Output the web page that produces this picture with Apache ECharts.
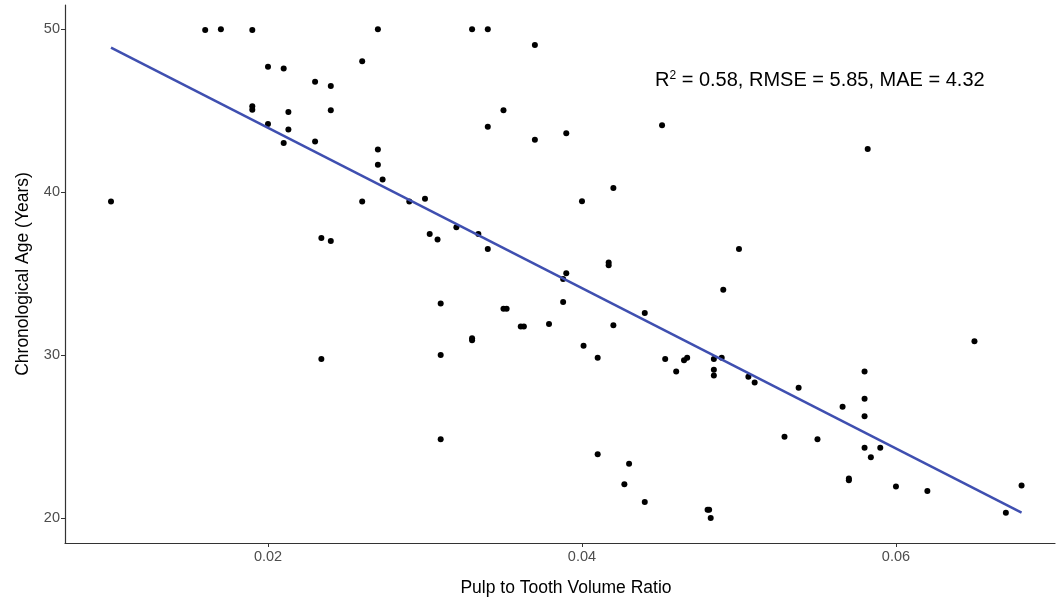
<!DOCTYPE html>
<html>
<head>
<meta charset="utf-8">
<title>Pulp to Tooth Volume Ratio vs Age</title>
<script src="https://cdn.jsdelivr.net/npm/echarts@6/dist/echarts.min.js"></script>
<style>
  html, body { margin: 0; padding: 0; background: #fff; overflow: hidden; }
  #chart { width: 1056px; height: 602px; }
</style>
</head>
<body>
<div id="chart"></div>
<script>
  // points
  var ratio = [
    0.0160, 0.0170, 0.0190, 0.0270, 0.0260, 0.0200, 0.0210, 0.0230, 0.0240, 0.0190,
    0.0190, 0.0213, 0.0240, 0.0200, 0.0213, 0.0210, 0.0230, 0.0270, 0.0270, 0.0273,
    0.0260, 0.0290, 0.0100, 0.0234, 0.0240, 0.0330, 0.0340, 0.0370, 0.0350, 0.0340,
    0.0370, 0.0390, 0.0451, 0.0420, 0.0400, 0.0300, 0.0303, 0.0308, 0.0320, 0.0334,
    0.0340, 0.0500, 0.0417, 0.0417, 0.0390, 0.0388, 0.0490, 0.0310, 0.0388, 0.0350,
    0.0352, 0.0440, 0.0361, 0.0363, 0.0379, 0.0420, 0.0330, 0.0330, 0.0310, 0.0401,
    0.0410, 0.0453, 0.0460, 0.0465, 0.0467, 0.0484, 0.0489, 0.0484, 0.0484, 0.0506,
    0.0510, 0.0310, 0.0410, 0.0430, 0.0427, 0.0440, 0.0480, 0.0481, 0.0482, 0.0234,
    0.0538, 0.0650, 0.0580, 0.0580, 0.0580, 0.0566, 0.0529, 0.0550, 0.0580, 0.0590,
    0.0584, 0.0570, 0.0570, 0.0600, 0.0620, 0.0680, 0.0670, 0.0582
  ]
  var age = [
    49.94, 50.00, 49.94, 50.00, 48.03, 47.69, 47.58, 46.77, 46.51, 45.27,
    45.05, 44.92, 45.03, 44.18, 43.85, 43.02, 43.10, 42.61, 41.68, 40.77,
    39.43, 39.43, 39.43, 37.19, 37.01, 50.00, 50.00, 49.03, 45.03, 44.01,
    43.22, 43.61, 44.11, 40.26, 39.45, 39.59, 37.44, 37.10, 37.85, 37.44,
    36.52, 36.52, 35.69, 35.52, 35.03, 34.67, 34.01, 33.17, 33.26, 32.85,
    32.85, 32.59, 31.76, 31.76, 31.92, 31.84, 31.04, 30.92, 30.01, 30.58,
    29.85, 29.77, 29.00, 29.69, 29.85, 29.77, 29.85, 29.10, 28.76, 28.67,
    28.33, 24.84, 23.93, 23.34, 22.08, 21.00, 20.52, 20.52, 20.01, 29.77,
    28.00, 30.85, 29.00, 27.33, 26.26, 26.83, 25.00, 24.84, 24.33, 24.33,
    23.74, 22.43, 22.33, 21.94, 21.67, 22.00, 20.33, 42.65
  ]
  var xTicks = [0.02, 0.04, 0.06]
  var yTicks = [20, 30, 40, 50]
  // fitted line
  var fitIntercept = 53.78
  var fitSlope = -491.7

  var points = ratio.map(function (r, i) { return [r, age[i]] })
  var xLo = Math.min.apply(null, ratio)
  var xHi = Math.max.apply(null, ratio)
  var fitData = [xLo, xHi].map(function (x) { return [x, fitIntercept + fitSlope * x] })

  var font = '"Liberation Sans", Arial, Helvetica, sans-serif'
  var axisColor = '#333'

  var chart = echarts.init(document.getElementById('chart'), null, { renderer: 'canvas' })
  var option = {
    backgroundColor: '#fff',
    animation: false,
    grid: { left: 65, right: 1, top: 5, bottom: 55, containLabel: false },
    xAxis: {
      type: 'value',
      min: 0.00707,
      max: 0.07013,
      name: 'Pulp to Tooth Volume Ratio',
      nameLocation: 'middle',
      nameGap: 36,
      nameTextStyle: { color: '#000', fontSize: 17.5, fontFamily: font, padding: [0, 0, 0, 12] },
      axisLine: { show: true, onZero: false, lineStyle: { color: axisColor, width: 1.2 } },
      axisTick: { show: true, length: 4, customValues: xTicks, lineStyle: { color: axisColor } },
      axisLabel: {
        color: '#4d4d4d', fontSize: 14.5, fontFamily: font, margin: 6,
        customValues: xTicks,
        formatter: function (v) { return v.toFixed(2) }
      },
      splitLine: { show: false }
    },
    yAxis: {
      type: 'value',
      min: 18.48,
      max: 51.48,
      name: 'Chronological Age (Years)',
      nameLocation: 'middle',
      nameGap: 33,
      nameTextStyle: { color: '#000', fontSize: 17.5, fontFamily: font },
      axisLine: { show: true, onZero: false, lineStyle: { color: axisColor, width: 1.2 } },
      axisTick: { show: true, length: 4, customValues: yTicks, lineStyle: { color: axisColor } },
      axisLabel: { color: '#4d4d4d', fontSize: 14.5, fontFamily: font, margin: 5, customValues: yTicks },
      splitLine: { show: false }
    },
    series: [
      {
        name: 'observed',
        type: 'scatter',
        data: points,
        symbol: 'circle',
        symbolSize: 6,
        itemStyle: { color: '#000', opacity: 1 },
        z: 2
      },
      {
        name: 'fit',
        type: 'line',
        data: fitData,
        showSymbol: false,
        lineStyle: { color: '#3f4fb0', width: 2.5 },
        z: 3
      }
    ],
    graphic: [
      {
        type: 'text',
        left: 655,
        top: 70,
        style: {
          text: '{b|R}{s|2}{b| = 0.58, RMSE = 5.85, MAE = 4.32}',
          fill: '#000',
          rich: {
            b: { fontSize: 20, fontFamily: font, fill: '#000', verticalAlign: 'bottom' },
            s: { fontSize: 12, fontFamily: font, fill: '#000', verticalAlign: 'top' }
          }
        }
      }
    ]
  }
  chart.setOption(option)
</script>
</body>
</html>
